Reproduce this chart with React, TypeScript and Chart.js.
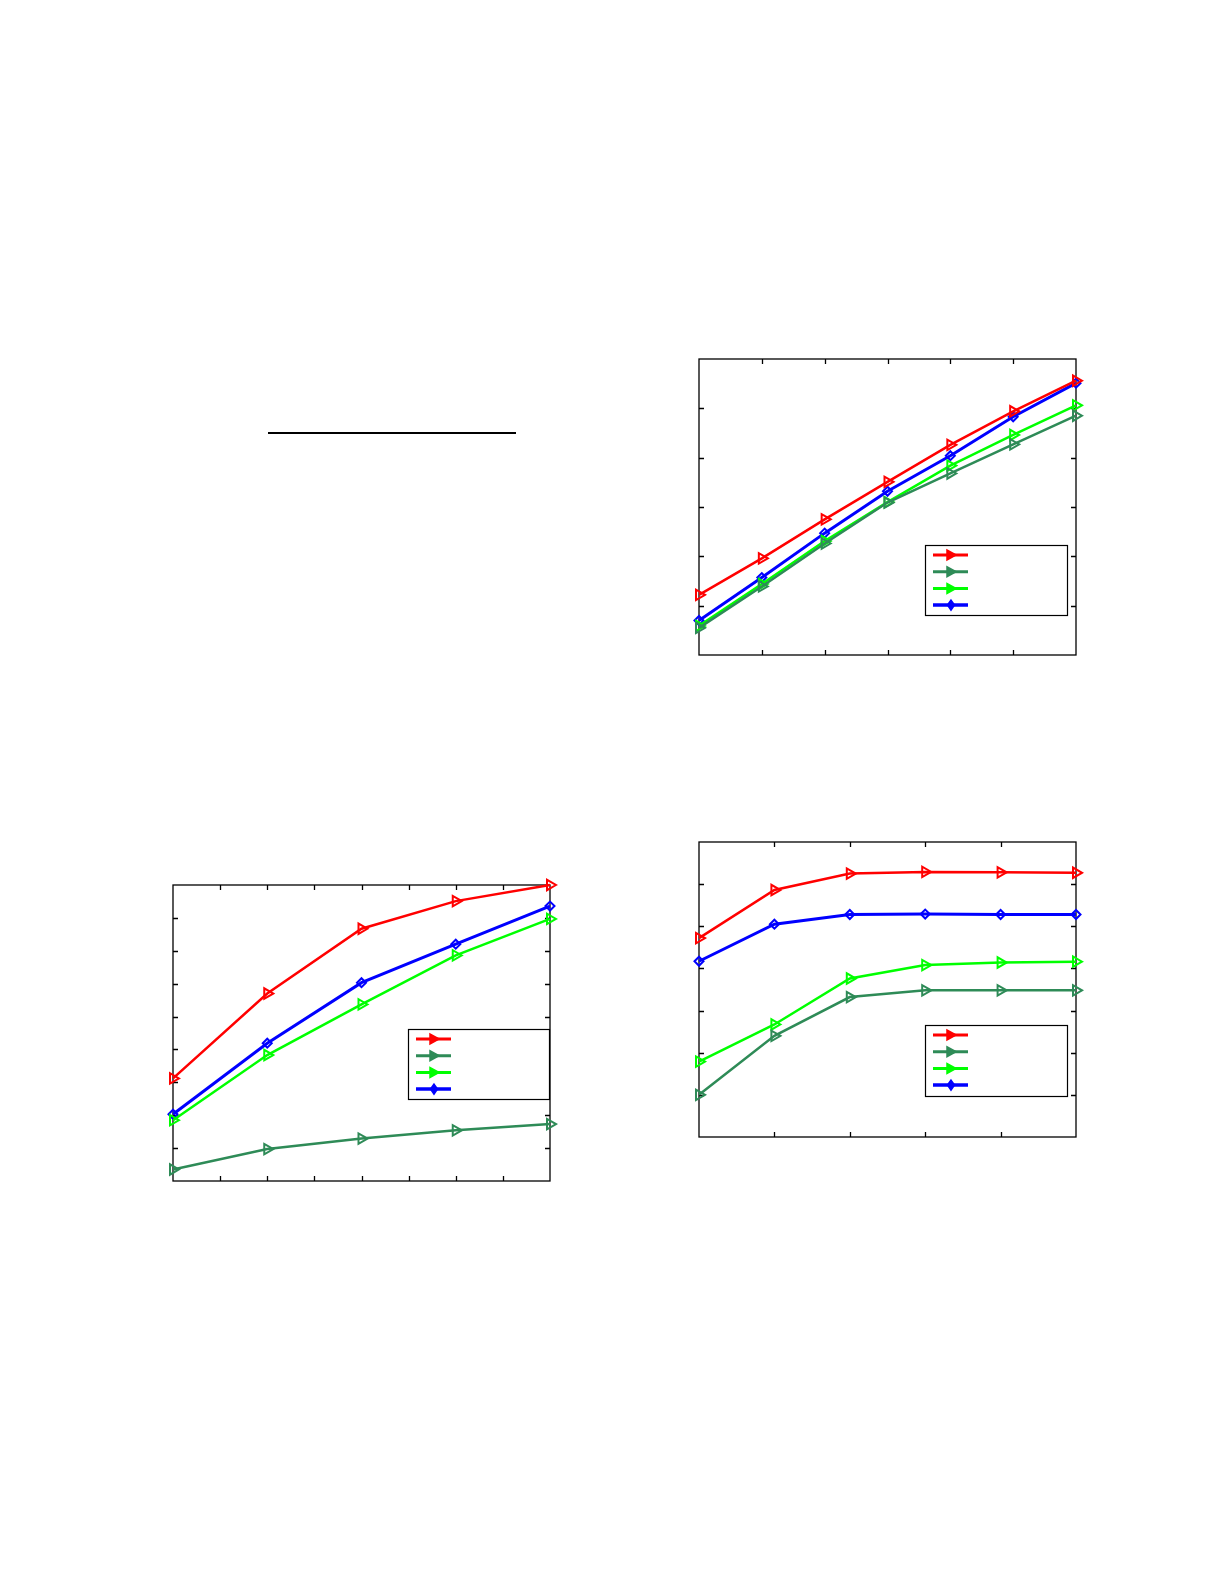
import React, { useEffect, useRef } from 'react';
import { Chart, registerables } from 'chart.js';

Chart.register(...registerables);

// top-right panel: 7 points, y range 0..6
const xTop = [0, 1, 2, 3, 4, 5, 6];
const redTop = [1.22, 1.96, 2.75, 3.51, 4.26, 4.94, 5.56];
const darkTop = [0.55, 1.39, 2.26, 3.09, 3.68, 4.27, 4.85];
const lightTop = [0.59, 1.44, 2.31, 3.1, 3.84, 4.46, 5.06];
const blueTop = [0.7, 1.57, 2.47, 3.32, 4.04, 4.83, 5.51];

// bottom-left panel: 5 points on a 0..8 axis, y range 0..9
const xLeft = [0, 2, 4, 6, 8];
const redLeft = [3.12, 5.7, 7.67, 8.51, 9.0];
const darkLeft = [0.35, 0.97, 1.29, 1.54, 1.73];
const lightLeft = [1.85, 3.83, 5.37, 6.86, 7.97];
const blueLeft = [2.03, 4.19, 6.03, 7.2, 8.36];

// bottom-right panel: 6 points, y range 0..7
const xRight = [0, 1, 2, 3, 4, 5];
const redRight = [4.72, 5.86, 6.25, 6.29, 6.28, 6.27];
const darkRight = [1.0, 2.4, 3.32, 3.48, 3.48, 3.48];
const lightRight = [1.79, 2.67, 3.76, 4.08, 4.14, 4.16];
const blueRight = [4.17, 5.05, 5.28, 5.29, 5.28, 5.28];

const seriesNames = ['Series 1', 'Series 2', 'Series 3', 'Series 4'];
const colors = ['#ff0000', '#2e8b57', '#00ff00', '#0000ff'];

const PAD = 14;

// box + inward ticks on all four sides, like a MATLAB axes
const framePlugin = {
  id: 'frame',
  beforeDatasetsDraw(chart: any) {
    const { ctx, chartArea: a, scales } = chart;
    const len = 5;
    ctx.save();
    ctx.strokeStyle = '#000';
    ctx.lineWidth = 1.3;
    ctx.strokeRect(a.left, a.top, a.right - a.left, a.bottom - a.top);
    ctx.beginPath();
    scales.x.ticks.forEach((t: any) => {
      if (t.value <= scales.x.min || t.value >= scales.x.max) return;
      const px = Math.round(scales.x.getPixelForValue(t.value)) + 0.5;
      ctx.moveTo(px, a.bottom);
      ctx.lineTo(px, a.bottom - len);
      ctx.moveTo(px, a.top);
      ctx.lineTo(px, a.top + len);
    });
    scales.y.ticks.forEach((t: any) => {
      if (t.value <= scales.y.min || t.value >= scales.y.max) return;
      const py = Math.round(scales.y.getPixelForValue(t.value)) + 0.5;
      ctx.moveTo(a.left, py);
      ctx.lineTo(a.left + len, py);
      ctx.moveTo(a.right, py);
      ctx.lineTo(a.right - len, py);
    });
    ctx.stroke();
    ctx.restore();
  },
};

function drawMarker(ctx: CanvasRenderingContext2D, style: string, x: number, y: number, color: string) {
  ctx.beginPath();
  if (style === 'triangle') {
    ctx.moveTo(x + 5, y);
    ctx.lineTo(x - 4, y - 5);
    ctx.lineTo(x - 4, y + 5);
  } else {
    ctx.moveTo(x, y - 5);
    ctx.lineTo(x + 3.5, y);
    ctx.lineTo(x, y + 5);
    ctx.lineTo(x - 3.5, y);
  }
  ctx.closePath();
  ctx.fillStyle = color;
  ctx.strokeStyle = color;
  ctx.lineWidth = 1.5;
  ctx.fill();
  ctx.stroke();
}

// legend box with line samples only (the reference has no legend text)
const boxLegendPlugin = {
  id: 'boxLegend',
  afterDatasetsDraw(chart: any, _args: any, opts: any) {
    const { ctx, chartArea: a } = chart;
    const right = a.right - opts.right;
    const bottom = a.bottom - opts.bottom;
    const left = right - opts.w;
    const top = bottom - opts.h;
    ctx.save();
    ctx.fillStyle = '#fff';
    ctx.fillRect(left, top, opts.w, opts.h);
    ctx.strokeStyle = '#000';
    ctx.lineWidth = 1.2;
    ctx.strokeRect(Math.round(left) + 0.5, Math.round(top) + 0.5, opts.w, opts.h);
    chart.data.datasets.forEach((ds: any, i: number) => {
      const y = top + 10 + i * 16.7;
      ctx.beginPath();
      ctx.strokeStyle = ds.borderColor;
      ctx.lineWidth = ds.borderWidth + 0.5;
      ctx.moveTo(left + 8, y);
      ctx.lineTo(left + 43, y);
      ctx.stroke();
      drawMarker(ctx, ds.pointStyle, left + 26, y, ds.borderColor);
    });
    ctx.restore();
  },
};

interface PanelProps {
  xs: number[];
  series: number[][];
  xMax: number;
  yMax: number;
  left: number;
  top: number;
  width: number;
  height: number;
  legend: { right: number; bottom: number; w: number; h: number };
}

function Panel({ xs, series, xMax, yMax, left, top, width, height, legend }: PanelProps) {
  const chartRef = useRef<HTMLCanvasElement>(null);

  useEffect(() => {
    if (!chartRef.current) return;
    const ctx = chartRef.current.getContext('2d');
    if (!ctx) return;

    const datasets = series.map((vals, i) => ({
      label: seriesNames[i],
      data: vals.map((v, j) => ({ x: xs[j], y: v })),
      borderColor: colors[i],
      backgroundColor: 'transparent',
      borderWidth: i === 3 ? 3 : 2.5,
      pointStyle: i === 3 ? 'rectRot' : 'triangle',
      pointRotation: i === 3 ? 0 : 90,
      pointRadius: i === 3 ? 4.5 : 6,
      pointBorderWidth: 2,
      pointBackgroundColor: 'transparent',
      pointBorderColor: colors[i],
      tension: 0,
      clip: false as const,
    }));

    const chart = new Chart(ctx, {
      type: 'line',
      data: { datasets },
      options: {
        animation: false,
        responsive: false,
        maintainAspectRatio: false,
        layout: { padding: PAD },
        plugins: {
          legend: { display: false },
          tooltip: { enabled: false },
          boxLegend: legend,
        } as any,
        scales: {
          x: {
            type: 'linear',
            min: 0,
            max: xMax,
            ticks: { display: false, stepSize: 1 },
            grid: { display: false },
            border: { display: false },
          },
          y: {
            type: 'linear',
            min: 0,
            max: yMax,
            ticks: { display: false, stepSize: 1 },
            grid: { display: false },
            border: { display: false },
          },
        },
      },
      plugins: [framePlugin, boxLegendPlugin],
    });

    return () => {
      chart.destroy();
    };
  }, [xs, series, xMax, yMax, legend]);

  return (
    <div
      style={{
        position: 'absolute',
        left: left - PAD,
        top: top - PAD,
        width: width + PAD * 2,
        height: height + PAD * 2,
      }}
    >
      <canvas ref={chartRef} width={width + PAD * 2} height={height + PAD * 2} />
    </div>
  );
}

export default function App() {
  return (
    <div style={{ position: 'absolute', left: 0, top: 0, width: 1225, height: 1585, background: '#fff' }}>
      <div style={{ position: 'absolute', left: 268, top: 432, width: 248, height: 2, background: '#000' }} />
      <Panel
        xs={xTop}
        series={[redTop, darkTop, lightTop, blueTop]}
        xMax={6}
        yMax={6}
        left={691}
        top={359}
        width={385}
        height={304}
        legend={{ right: 9, bottom: 40, w: 142, h: 70 }}
      />
      <Panel
        xs={xLeft}
        series={[redLeft, darkLeft, lightLeft, blueLeft]}
        xMax={8}
        yMax={9}
        left={165}
        top={885}
        width={385}
        height={304}
        legend={{ right: 1, bottom: 82, w: 141, h: 70 }}
      />
      <Panel
        xs={xRight}
        series={[redRight, darkRight, lightRight, blueRight]}
        xMax={5}
        yMax={7}
        left={691}
        top={842}
        width={385}
        height={303}
        legend={{ right: 9, bottom: 41, w: 142, h: 71 }}
      />
    </div>
  );
}
